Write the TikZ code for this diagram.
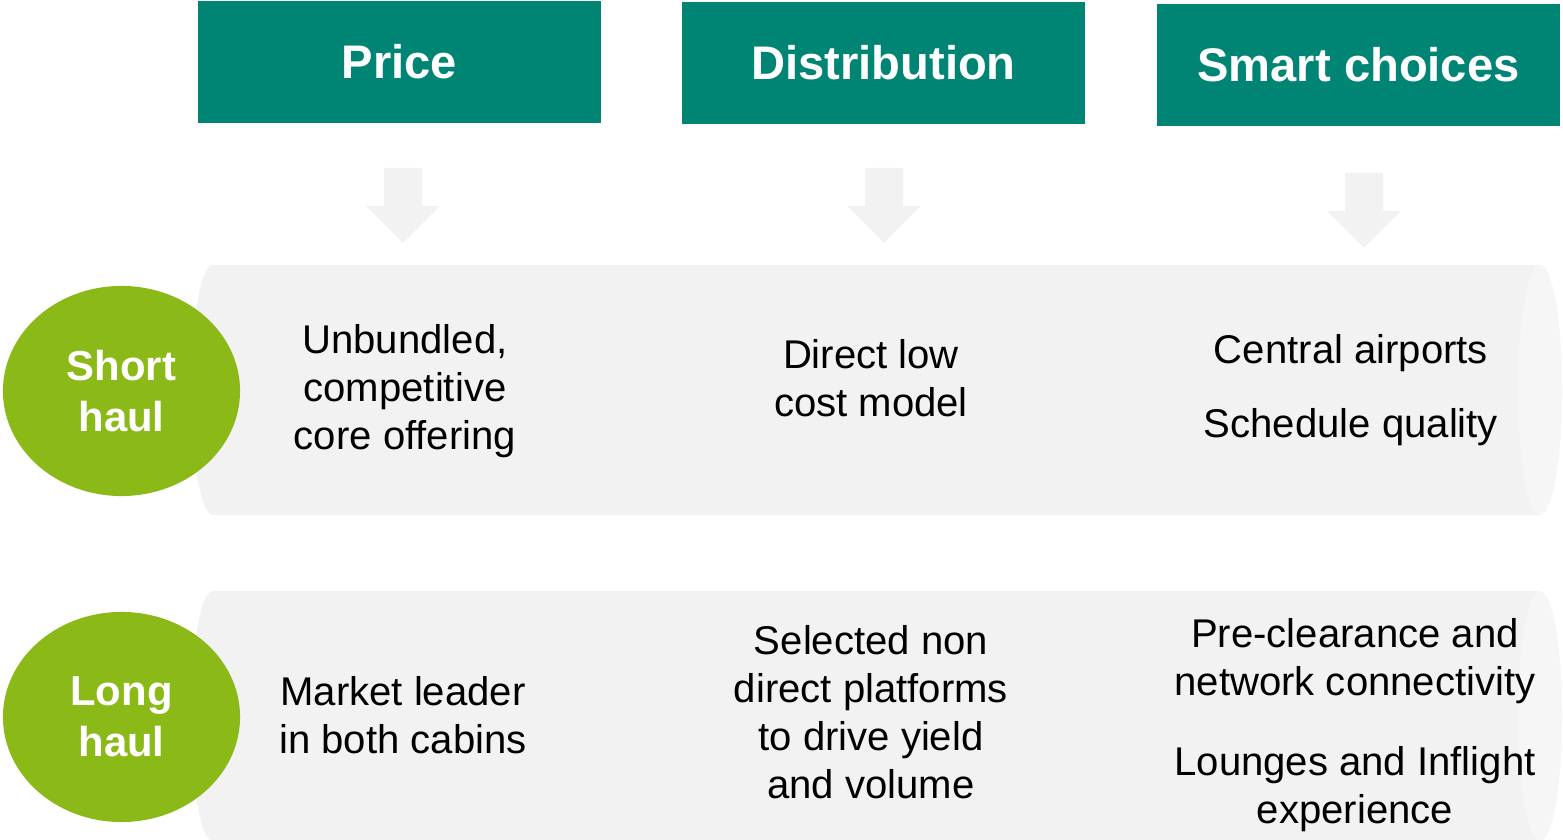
\documentclass[tikz,border=0pt]{standalone}
\usepackage{fontspec}
\setmainfont{Liberation Sans}
\usepackage{xcolor}
\usetikzlibrary{shapes.geometric}
\definecolor{headteal}{HTML}{008575}
\definecolor{leaf}{HTML}{8BBA18}
\definecolor{pipe}{HTML}{F2F2F2}
\definecolor{pipeend}{HTML}{F6F6F6}

\begin{document}
\begin{tikzpicture}[
    x=0.01cm, y=0.01cm,
    header/.style={fill=headteal, text=white, font=\bfseries\fontsize{13.4pt}{16pt}\selectfont, minimum width=4.03cm, minimum height=1.22cm, inner sep=0pt},
    haul/.style={ellipse, fill=leaf, text=white, align=center, font=\bfseries\fontsize{11.9pt}{14.5pt}\selectfont, minimum width=2.37cm, minimum height=2.1cm, inner sep=0pt},
    body/.style={align=center, text=black, font=\fontsize{11.4pt}{13.7pt}\selectfont, inner sep=0pt},
    bigarrow/.style={fill=pipe}
]
\useasboundingbox (0,0) rectangle (1563,840);

\node[header] (price) at (399.5,778) {Price};
\node[header] (distr) at (883.5,777) {Distribution};
\node[header] (smart) at (1358.5,775) {Smart choices};

\foreach \x/\y in {403/672, 884/672, 1364/667}
    \fill[bigarrow] (\x-19,\y) -- (\x+19,\y) -- (\x+19,\y-38) -- (\x+37,\y-38)
        -- (\x,\y-75) -- (\x-37,\y-38) -- (\x-19,\y-38) -- cycle;

\foreach \y in {450, 124} {
    \fill[pipe] (213,\y+125) -- (1540,\y+125)
        arc[start angle=90, end angle=-90, x radius=0.22cm, y radius=1.25cm]
        -- (213,\y-125)
        arc[start angle=270, end angle=90, x radius=0.22cm, y radius=1.25cm] -- cycle;
    \fill[pipeend] (1540,\y) ellipse[x radius=0.22cm, y radius=1.25cm];
}

\node[haul] (short) at (121.5,449) {Short\\haul};
\node[haul] (long) at (121.5,123) {Long\\haul};

\node[body] (shortprice) at (405,449) {Unbundled,\\competitive\\core offering};
\node[body] (shortdistr) at (871,462) {Direct low\\cost model};
\node[body] (shortsmart) at (1351,450) {Central airports\\[7.3pt]Schedule quality};

\node[body] (longprice) at (403,125) {Market leader\\in both cabins};
\node[body] (longdistr) at (871,128) {Selected non\\direct platforms\\to drive yield\\and volume};
\node[body] (longsmart) at (1355,115) {Pre-clearance and\\network connectivity\\[9pt]Lounges and Inflight\\experience};
\end{tikzpicture}
\end{document}
